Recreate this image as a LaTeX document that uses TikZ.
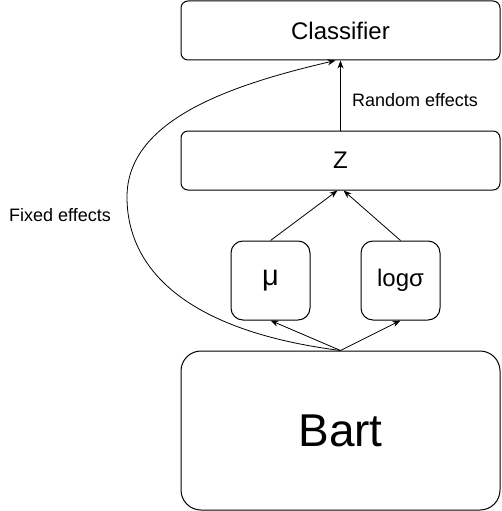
\documentclass[tikz,border=0pt]{standalone}
\usepackage{fontspec}
\setmainfont{Liberation Sans}
\usetikzlibrary{arrows.meta}

\begin{document}
\begin{tikzpicture}[x=1pt,y=-1pt]
\tikzstyle{every node}+=[inner sep=0pt]
\tikzstyle{wide}=[draw=black, line width=1pt, rounded corners=7pt, minimum width=319pt, minimum height=59pt, font=\fontsize{24}{28}\selectfont]
\tikzstyle{small}=[draw=black, line width=1pt, rounded corners=12pt, minimum width=79pt, minimum height=79pt, font=\fontsize{24}{28}\selectfont]
\tikzstyle{lbl}=[font=\fontsize{18}{22}\selectfont]
\tikzstyle{arr}=[line width=0.8pt, -{Stealth[length=8pt,width=6pt,inset=2.5pt]}]
\useasboundingbox (0,0) rectangle (501,511);
\node [wide] (classifier) at (340.5,30.5) {Classifier};
\node [wide] (z) at (340.5,160.5) {Z};
\node [small, font=\fontsize{29}{33}\selectfont] (mu) at (270.5,280.5) {μ};
\node [small] (logsigma) at (400.5,280.5) {logσ};
\node [wide, minimum height=159pt, rounded corners=20pt, font=\fontsize{46}{52}\selectfont] (bart) at (340.5,430.5) {Bart};
\coordinate (fixin) at ([xshift=-5pt]classifier.south);
\coordinate (zleft) at ([xshift=-3pt]z.south);
\coordinate (zright) at ([xshift=3pt]z.south);
\draw [arr] (bart.north) -- (mu.south);
\draw [arr] (bart.north) -- (logsigma.south);
\draw [arr] (mu.north) -- (zleft);
\draw [arr] (logsigma.north) -- (zright);
\draw [arr] (z.north) -- (classifier.south);
\draw [arr] (bart.north) .. controls (180,330) and (127,265) .. (127,197) .. controls (127,120) and (230,85) .. (fixin);
\node [lbl] (random) at (415,100) {Random effects};
\node [lbl] (fixed) at (60,215) {Fixed effects};
\end{tikzpicture}
\end{document}
